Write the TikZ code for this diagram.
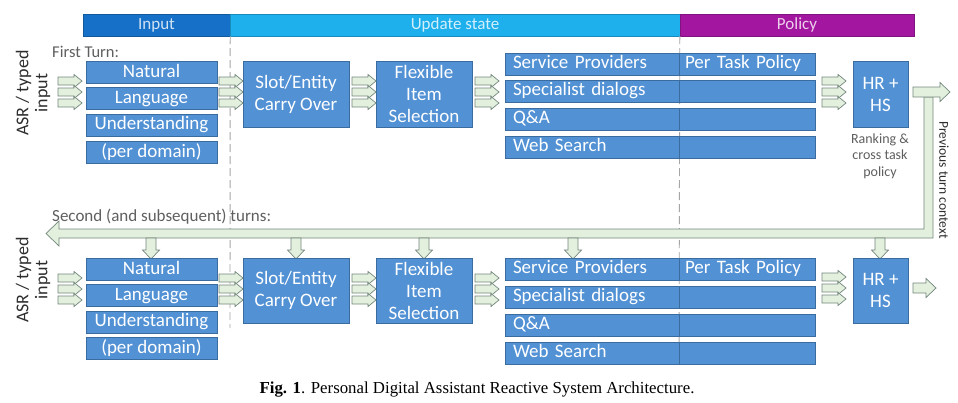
\documentclass[tikz,border=0pt]{standalone}
\usepackage{fontspec}
\setmainfont{Carlito}
\newfontfamily\capfont{Liberation Serif}
\definecolor{boxfill}{RGB}{82,145,212}
\definecolor{boxline}{RGB}{58,108,160}
\definecolor{inhdr}{RGB}{22,112,200}
\definecolor{uphdr}{RGB}{30,176,236}
\definecolor{polhdr}{RGB}{163,22,160}
\definecolor{arrfill}{RGB}{228,240,222}
\definecolor{arrline}{RGB}{115,135,125}
\definecolor{graytxt}{RGB}{95,95,95}
\definecolor{darktxt}{RGB}{45,45,45}
\newcommand\boxfont{\fontsize{19}{22}\selectfont}
\newcommand\RA[2]{\draw[blk] (#1,#2-4) -- (#1+16,#2-4) -- (#1+16,#2-6.5) -- (#1+24,#2) -- (#1+16,#2+6.5) -- (#1+16,#2+4) -- (#1,#2+4) -- cycle;}
\newcommand\RAT[2]{\RA{#1}{#2-11}\RA{#1}{#2}\RA{#1}{#2+11}}
\newcommand\DA[2]{\draw[blk] (#1-5,#2) -- (#1+5,#2) -- (#1+5,#2+12) -- (#1+8.5,#2+12) -- (#1,#2+21) -- (#1-8.5,#2+12) -- (#1-5,#2+12) -- cycle;}
\tikzset{
  box/.style={draw=boxline, fill=boxfill, text=white, inner sep=0pt, line width=0.8pt, font=\boxfont, align=center},
  row/.style={box, minimum height=22pt, text height=13pt, text depth=4pt},
  hdr/.style={minimum height=22pt, inner sep=0pt, font=\fontsize{17}{19}\selectfont},
  blk/.style={draw=arrline, fill=arrfill, line width=0.7pt, line join=miter},
  sep/.style={draw=gray!70, line width=0.9pt, dash pattern=on 8pt off 4pt},
  note/.style={text=graytxt, inner sep=0pt},
}
\begin{document}
\begin{tikzpicture}[x=1pt,y=-1pt]
\useasboundingbox (0,0) rectangle (958,402);
\fill[white] (0,0) rectangle (958,402);

% headers
\node[hdr, fill=inhdr, draw=inhdr!80!black, minimum width=147pt, text=white!80!inhdr] (hin) at (156.5,25) {Input};
\node[hdr, fill=uphdr, draw=uphdr!80!black, minimum width=450pt, text=white!80!uphdr] (hup) at (455,25) {Update state};
\node[hdr, fill=polhdr, draw=polhdr!80!black, minimum width=234pt, text=white!80!polhdr] (hpol) at (797,25) {Policy};

% dashed separators
\draw[sep] (hin.south east) -- (230,328);
\draw[sep] (hpol.south west) -- (679,364);

% turn labels
\node[note, anchor=west, font=\fontsize{16.5}{18}\selectfont] (t1) at (52,52) {First Turn:};
\node[note, anchor=west, font=\fontsize{17}{18}\selectfont] (t2) at (52,217) {Second (and subsequent) turns:};

% ASR labels
\node[text=darktxt, rotate=90, align=center, inner sep=0pt, font=\fontsize{18}{19}\selectfont] (asr1) at (33,93) {ASR / typed\\input};
\node[text=darktxt, rotate=90, align=center, inner sep=0pt, font=\fontsize{18}{19}\selectfont] (asr2) at (33,280) {ASR / typed\\input};

% ---------- first turn ----------
\node[row, minimum width=131pt] (n1a) at (151.5,72.5) {Natural};
\node[row, minimum width=131pt] (n1b) at (151.5,98.5) {Language};
\node[row, minimum width=131pt] (n1c) at (151.5,125) {Understanding};
\node[row, minimum width=131pt] (n1d) at (151.5,152.5) {(per domain)};

\node[box, minimum width=106pt, minimum height=66pt] (s1) at (296,94) {Slot/Entity\\Carry Over};
\node[box, minimum width=96pt, minimum height=66pt] (f1) at (424,94) {Flexible\\Item\\Selection};

\node[row, minimum width=174pt, text width=158pt, align=left, inner xsep=8pt] (p1a) at (592,64) {Service Providers};
\node[row, minimum width=174pt, text width=158pt, align=left, inner xsep=8pt] (p1b) at (592,91) {Specialist dialogs};
\node[row, minimum width=174pt, text width=158pt, align=left, inner xsep=8pt] (p1c) at (592,119) {Q\&A};
\node[row, minimum width=174pt, text width=158pt, align=left, inner xsep=8pt] (p1d) at (592,147) {Web Search};
\node[row, minimum width=136pt, text width=124pt, align=left, inner xsep=6pt] (q1a) at (747,64) {Per Task Policy};
\node[row, minimum width=136pt, text width=124pt, align=left, inner xsep=6pt] (q1b) at (747,91) {};
\node[row, minimum width=136pt, text width=124pt, align=left, inner xsep=6pt] (q1c) at (747,119) {};
\node[row, minimum width=136pt, text width=124pt, align=left, inner xsep=6pt] (q1d) at (747,147) {};

\node[box, minimum width=55pt, minimum height=66pt] (h1) at (880.5,94) {HR +\\HS};
\node[note, align=center, font=\fontsize{14}{16.5}\selectfont] (rk) at (880,156) {Ranking \&\\cross task\\policy};

\RAT{58}{92}
\RAT{219}{92}
\RAT{352}{92}
\RAT{475}{92}
\RAT{822}{92}

% feedback loop
\draw[blk] (924,97) -- (933,97) -- (933,238) -- (59,238) -- (59,246) -- (46,233.5) -- (59,221) -- (59,229) -- (924,229) -- cycle;
\draw[blk] (913,87) -- (940,87) -- (940,82.5) -- (950,92) -- (940,101.5) -- (940,97) -- (913,97) -- cycle;
\node[text=darktxt, rotate=-90, inner sep=0pt, font=\fontsize{13.5}{16}\selectfont] (ptc) at (944,180) {Previous turn context};

\DA{151}{238}
\DA{296}{238}
\DA{424}{238}
\DA{573}{238}
\DA{880}{238}

% ---------- second turn ----------
\node[row, minimum width=131pt] (n2a) at (151.5,269.5) {Natural};
\node[row, minimum width=131pt] (n2b) at (151.5,295.5) {Language};
\node[row, minimum width=131pt] (n2c) at (151.5,322) {Understanding};
\node[row, minimum width=131pt] (n2d) at (151.5,348.5) {(per domain)};

\node[box, minimum width=106pt, minimum height=65pt] (s2) at (296,290.5) {Slot/Entity\\Carry Over};
\node[box, minimum width=96pt, minimum height=65pt] (f2) at (424,290.5) {Flexible\\Item\\Selection};

\node[row, minimum width=174pt, text width=158pt, align=left, inner xsep=8pt] (p2a) at (592,269) {Service Providers};
\node[row, minimum width=174pt, text width=158pt, align=left, inner xsep=8pt] (p2b) at (592,297) {Specialist dialogs};
\node[row, minimum width=174pt, text width=158pt, align=left, inner xsep=8pt] (p2c) at (592,325) {Q\&A};
\node[row, minimum width=174pt, text width=158pt, align=left, inner xsep=8pt] (p2d) at (592,353) {Web Search};
\node[row, minimum width=136pt, text width=124pt, align=left, inner xsep=6pt] (q2a) at (747,269) {Per Task Policy};
\node[row, minimum width=136pt, text width=124pt, align=left, inner xsep=6pt] (q2b) at (747,297) {};
\node[row, minimum width=136pt, text width=124pt, align=left, inner xsep=6pt] (q2c) at (747,325) {};
\node[row, minimum width=136pt, text width=124pt, align=left, inner xsep=6pt] (q2d) at (747,353) {};

\node[box, minimum width=55pt, minimum height=65pt] (h2) at (880.5,290.5) {HR +\\HS};

\RAT{58}{289}
\RAT{219}{289}
\RAT{352}{289}
\RAT{475}{289}
\RAT{822}{288}
\draw[blk] (913,283) -- (926,283) -- (926,278.5) -- (936,288) -- (926,297.5) -- (926,293) -- (913,293) -- cycle;

% caption
\node[inner sep=0pt, font=\capfont\fontsize{16.8}{19}\selectfont] (cap) at (477,390) {\textbf{Fig. 1}. Personal Digital Assistant Reactive System Architecture.};
\end{tikzpicture}
\end{document}
